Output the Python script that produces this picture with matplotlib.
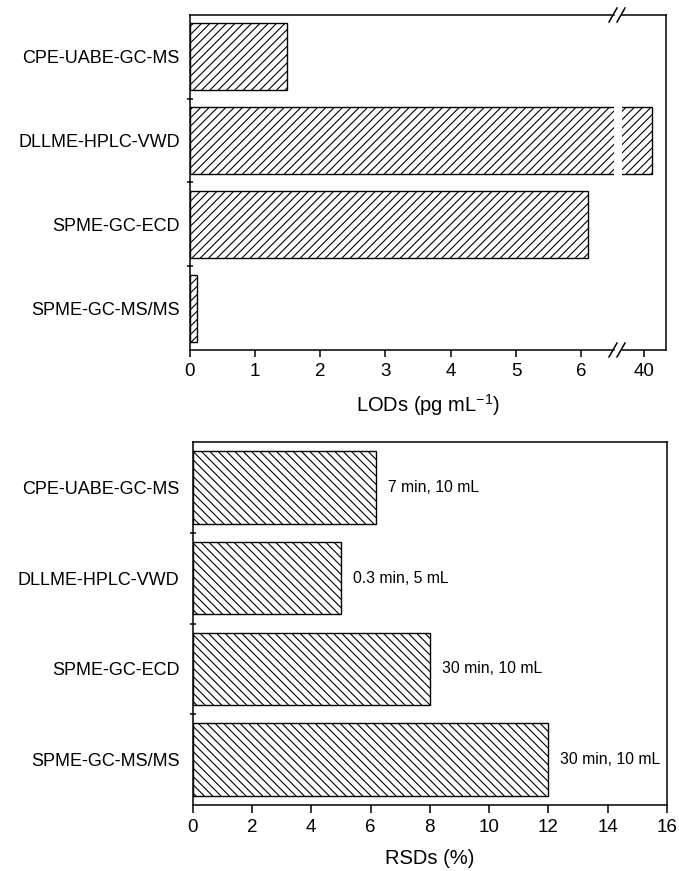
import matplotlib.pyplot as plt
from matplotlib.lines import Line2D
import numpy as np

plt.rcParams['font.family'] = ['Liberation Sans', 'DejaVu Sans']
plt.rcParams['mathtext.fontset'] = 'custom'
plt.rcParams['mathtext.rm'] = 'Liberation Sans'
plt.rcParams['mathtext.default'] = 'regular'
plt.rcParams['hatch.linewidth'] = 0.8

# data, listed top to bottom as in the figure
methods = ['CPE-UABE-GC-MS', 'DLLME-HPLC-VWD', 'SPME-GC-ECD', 'SPME-GC-MS/MS']
lods = [1.5, 41.8, 6.1, 0.12]        # pg/mL (DLLME on broken axis)
rsds = [6.2, 5.0, 8.0, 12.0]         # %
conditions = ['7 min, 10 mL', '0.3 min, 5 mL', '30 min, 10 mL', '30 min, 10 mL']
lod_ticks_left = [0, 1, 2, 3, 4, 5, 6]
lod_ticks_right = [40]
rsd_ticks = [0, 2, 4, 6, 8, 10, 12, 14, 16]

W, H = 679, 871
fx = lambda px: px / W
fy = lambda py: 1 - py / H

fig = plt.figure(figsize=(W / 100, H / 100), dpi=100)

ax1 = fig.add_axes([fx(189.5), fy(350), fx(614) - fx(189.5), fy(15) - fy(350)])
ax2 = fig.add_axes([fx(622), fy(350), fx(666) - fx(622), fy(15) - fy(350)])
ax3 = fig.add_axes([fx(192.7), fy(805), fx(667) - fx(192.7), fy(442) - fy(805)])

ypos = np.arange(len(methods))[::-1]
bar_kw = dict(height=0.8, color='white', edgecolor='black', linewidth=1.0)

for ax in (ax1, ax2, ax3):
    for s in ax.spines.values():
        s.set_linewidth(1.1)
    ax.set_ylim(-0.5, 3.5)
    ax.tick_params(axis='x', direction='out', length=5, width=1.1,
                   labelsize=13.5, pad=4)

# top: LODs with broken axis
ax1.barh(ypos, lods, hatch='////', **bar_kw)
ax2.barh(ypos, lods, hatch='////', **bar_kw)
ax1.set_xlim(0, 6.5)
ax2.set_xlim(35, 45)
ax1.set_xticks(lod_ticks_left)
ax2.set_xticks(lod_ticks_right)
ax1.spines['right'].set_visible(False)
ax2.spines['left'].set_visible(False)
ax2.set_yticks([])
ax1.set_yticks(ypos)
ax1.set_yticklabels(methods)
ax1.tick_params(axis='y', which='major', length=0, labelsize=13, pad=7)
ax1.set_yticks([0.5, 1.5, 2.5], minor=True)
ax1.tick_params(axis='y', which='minor', direction='inout', length=5, width=1.1)

# break marks on top and bottom spines
for cx in (613, 621):
    for cy in (15, 350):
        fig.add_artist(Line2D([fx(cx - 4), fx(cx + 4)], [fy(cy + 7), fy(cy - 7)],
                              color='black', linewidth=1.1,
                              transform=fig.transFigure))

fig.text(fx(428), fy(405), 'LODs (pg mL$^{-1}$)', ha='center', va='center',
         fontsize=14.5)

# bottom: RSDs
ax3.barh(ypos, rsds, hatch='\\\\\\\\', **bar_kw)
ax3.set_xlim(0, 16)
ax3.set_xticks(rsd_ticks)
ax3.tick_params(axis='x', length=6)
ax3.set_yticks(ypos)
ax3.set_yticklabels(methods)
ax3.tick_params(axis='y', which='major', length=0, labelsize=13, pad=9.5)
ax3.set_yticks([0.5, 1.5, 2.5], minor=True)
ax3.tick_params(axis='y', which='minor', direction='inout', length=5, width=1.1)

for y, v, c in zip(ypos, rsds, conditions):
    ax3.text(v + 0.4, y, c, va='center', ha='left', fontsize=11.3)

fig.text(fx(430), fy(858), 'RSDs (%)', ha='center', va='center', fontsize=14.5)

fig.savefig('out.png', dpi=100)
